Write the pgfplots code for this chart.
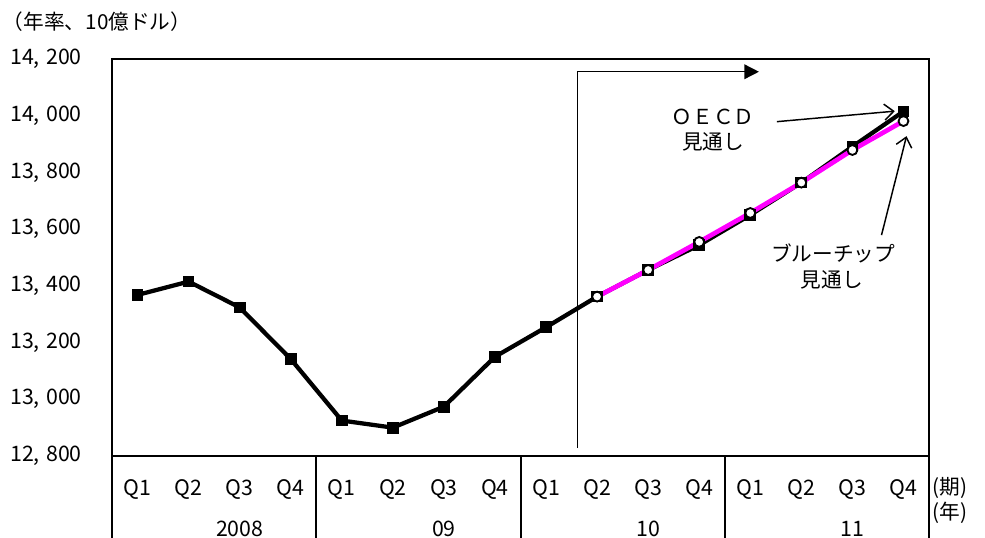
\documentclass[border=0pt]{standalone}
\usepackage{fontspec}
\setmainfont{Noto Sans CJK JP}
\usepackage{pgfplots}
\pgfplotsset{compat=1.18}
\usetikzlibrary{arrows.meta}

\definecolor{bcmag}{RGB}{255,0,255}

\begin{document}
\begin{tikzpicture}
\useasboundingbox (0,0) rectangle (738.75pt,403.5pt);
\node[anchor=west, inner sep=0pt, font=\fontsize{15.5pt}{18pt}\selectfont] at (2pt,387pt) {（年率、10億ドル）};
\begin{axis}[
    at={(84pt,61.5pt)}, anchor=south west,
    width=612.75pt, height=297.75pt,
    scale only axis,
    clip=false,
    xmin=-0.5, xmax=15.5,
    ymin=12800, ymax=14200,
    scaled y ticks=false,
    xtick={0,...,15},
    xticklabels={Q1,Q2,Q3,Q4,Q1,Q2,Q3,Q4,Q1,Q2,Q3,Q4,Q1,Q2,Q3,Q4},
    ytick={12800,13000,13200,13400,13600,13800,14000,14200},
    yticklabels={{12,\hspace{0.3em}800},{13,\hspace{0.3em}000},{13,\hspace{0.3em}200},{13,\hspace{0.3em}400},{13,\hspace{0.3em}600},{13,\hspace{0.3em}800},{14,\hspace{0.3em}000},{14,\hspace{0.3em}200}},
    major tick length=0pt,
    axis line style={line width=1.5pt},
    tick label style={font=\fontsize{16pt}{19pt}\selectfont},
    yticklabel style={anchor=east, inner sep=0pt, xshift=-22.5pt},
    xticklabel style={anchor=base, inner sep=0pt, yshift=-29.5pt},
]
% separators of the year groups under the axis
\foreach \s in {-0.5,3.5,7.5,11.5,15.5} {
    \edef\temp{\noexpand\draw[line width=1.5pt] (axis cs:\s,12800) -- ++(0pt,-70pt);}
    \temp
}
\node[anchor=base, font=\fontsize{16pt}{19pt}\selectfont] at (rel axis cs:0.1563,-0.202) {2008};
\node[anchor=base, font=\fontsize{16pt}{19pt}\selectfont] at (rel axis cs:0.4063,-0.202) {09};
\node[anchor=base, font=\fontsize{16pt}{19pt}\selectfont] at (rel axis cs:0.6563,-0.202) {10};
\node[anchor=base, font=\fontsize{16pt}{19pt}\selectfont] at (rel axis cs:0.9063,-0.202) {11};
\node[anchor=base west, inner sep=0pt, font=\fontsize{15.5pt}{18pt}\selectfont] at (rel axis cs:1.004,-0.098) {(期)};
\node[anchor=base west, inner sep=0pt, font=\fontsize{15.5pt}{18pt}\selectfont] at (rel axis cs:1.004,-0.159) {(年)};

% forecast period marker
\draw[line width=1.1pt, -{Triangle[length=11pt,width=11pt]}]
    (axis cs:8.62,12828) -- (axis cs:8.62,14155) -- (axis cs:12.17,14155);

% actual / OECD forecast
\addplot[black, line width=3.2pt, mark=square*, mark size=4pt,
    mark options={solid, fill=black, line width=0.8pt}]
    coordinates {
        (0,13368) (1,13415) (2,13324) (3,13142)
        (4,12925) (5,12900) (6,12974) (7,13150)
        (8,13254) (9,13362) (10,13456) (11,13544)
        (12,13650) (13,13764) (14,13891) (15,14015)
    };
% Blue Chip forecast
\addplot[bcmag, line width=3.5pt, mark=*, mark size=3.7pt,
    mark options={solid, fill=white, draw=black, line width=1.4pt}]
    coordinates {
        (9,13362) (10,13456) (11,13555) (12,13657)
        (13,13764) (14,13879) (15,13981)
    };

% annotations
\node[font=\fontsize{15.5pt}{18pt}\selectfont] at (axis cs:11.27,13995) {ＯＥＣＤ};
\node[font=\fontsize{15.5pt}{18pt}\selectfont] at (axis cs:11.27,13907) {見通し};
\draw[line width=1.1pt, -{Straight Barb[length=7pt,width=12pt]}]
    (axis cs:12.52,13979) -- (axis cs:14.83,14016);
\node[font=\fontsize{15.5pt}{18pt}\selectfont] at (axis cs:13.62,13516) {ブルーチップ};
\node[font=\fontsize{15.5pt}{18pt}\selectfont] at (axis cs:13.60,13421) {見通し};
\draw[line width=1.1pt, -{Straight Barb[length=7pt,width=12pt]}]
    (axis cs:14.57,13579) -- (axis cs:15.06,13928);
\end{axis}
\end{tikzpicture}
\end{document}
